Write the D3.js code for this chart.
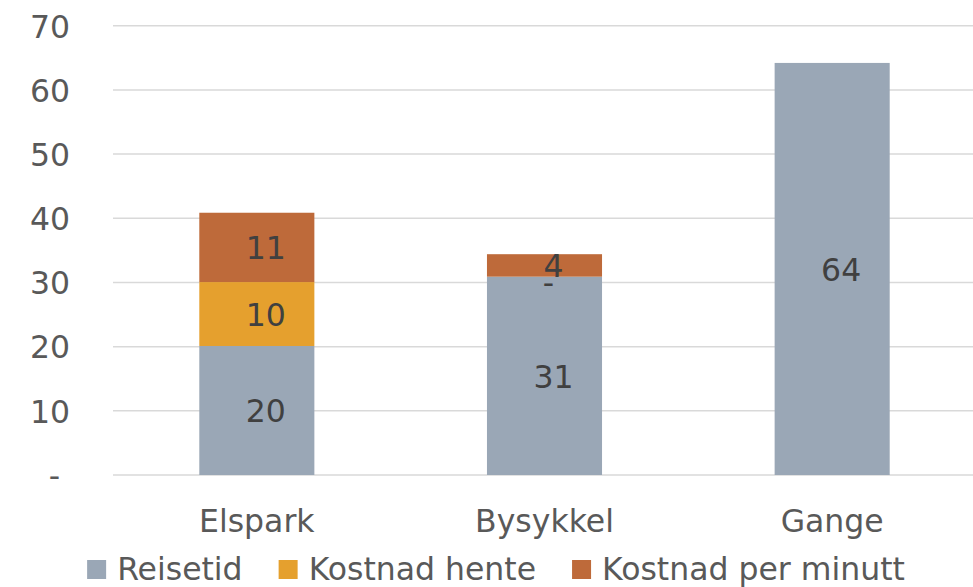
<!DOCTYPE html>
<html>
<head>
<meta charset="utf-8">
<script src="https://cdn.jsdelivr.net/npm/d3@7"></script>
<style>
    body { margin: 0; background: #fff; }
    text { font-family: "DejaVu Sans", sans-serif; }
</style>
</head>
<body>
<div class="canvas"></div>
<script>
//Data
const categories = ['Elspark', 'Bysykkel', 'Gange'];
const reisetid = [20.1, 30.9, 64.2];
const kostnadHente = [9.96, 0, 0];
const kostnadMinutt = [10.8, 3.5, 0];
const seriesNames = ['Reisetid', 'Kostnad hente', 'Kostnad per minutt'];
const yTicks = [0, 10, 20, 30, 40, 50, 60, 70];

const colors = ['#9aa7b6', '#e5a02e', '#be6a3a'];

//Svg parameters
const
    width = 973,
    height = 587,
    paddingL = 113,
    paddingR = -3,
    paddingT = 25.7,
    plotBottom = 475,
    fontSize = 31.5;

const svg = d3.select('.canvas')
    .append('svg')
    .attr('width', width)
    .attr('height', height);

const xScale = d3.scaleBand()
    .domain(categories)
    .range([paddingL, width - paddingR])
    .paddingInner(0.6)
    .paddingOuter(0.3);

const yScale = d3.scaleLinear()
    .domain([0, 70])
    .range([plotBottom, paddingT]);

// build stack table
const table = categories.map((c, i) => ({
    cat: c,
    'Reisetid': reisetid[i],
    'Kostnad hente': kostnadHente[i],
    'Kostnad per minutt': kostnadMinutt[i]
}));
const stacked = d3.stack().keys(seriesNames)(table);

//Gridlines
svg.append('g')
    .selectAll('line')
    .data(yTicks)
    .enter()
    .append('line')
    .attr('x1', paddingL)
    .attr('x2', width)
    .attr('y1', d => yScale(d))
    .attr('y2', d => yScale(d))
    .attr('stroke', '#d9d9d9')
    .attr('stroke-width', 1.5);

//Y axis
const yAxis = d3.axisLeft(yScale)
    .tickValues(yTicks)
    .tickSize(0)
    .tickPadding(0)
    .tickFormat(d => d === 0 ? '-' : d);
svg.append('g')
    .attr('transform', 'translate(70,0)')
    .call(yAxis)
    .call(g => g.select('.domain').remove())
    .call(g => g.selectAll('text')
        .attr('font-size', fontSize)
        .attr('fill', '#595959')
        .attr('font-family', '"DejaVu Sans", sans-serif')
        .attr('dx', d => d === 0 ? -10 : 0)
        .attr('dy', '0.36em'));

//Bars
const layers = svg.append('g')
    .selectAll('g')
    .data(stacked)
    .enter()
    .append('g')
    .attr('fill', (d, i) => colors[i]);

layers.selectAll('rect')
    .data(d => d)
    .enter()
    .append('rect')
    .attr('x', d => xScale(d.data.cat))
    .attr('width', xScale.bandwidth())
    .attr('y', d => yScale(d[1]))
    .attr('height', d => yScale(d[0]) - yScale(d[1]));

//Data labels (Excel shows "-" for the zero segment on Bysykkel)
stacked.forEach((layer, li) => {
    svg.append('g')
        .selectAll('text')
        .data(layer.filter(d => d.data[layer.key] > 0 || d.data.cat === 'Bysykkel'))
        .enter()
        .append('text')
        .attr('x', d => xScale(d.data.cat) + xScale.bandwidth() / 2 + (d.data[layer.key] === 0 ? 4 : 9))
        .attr('y', d => yScale((d[0] + d[1]) / 2))
        .attr('dy', d => d.data[layer.key] === 0 ? '0.55em' : '0.38em')
        .attr('text-anchor', 'middle')
        .attr('font-size', fontSize)
        .attr('fill', '#404040')
        .text(d => {
            const v = d.data[layer.key];
            return v === 0 ? '-' : d3.format('.0f')(v);
        });
});

//X axis
const xAxis = d3.axisBottom(xScale).tickSize(0).tickPadding(0);
svg.append('g')
    .attr('transform', 'translate(0,532)')
    .call(xAxis)
    .call(g => g.select('.domain').remove())
    .call(g => g.selectAll('text')
        .attr('font-size', fontSize)
        .attr('fill', '#595959')
        .attr('font-family', '"DejaVu Sans", sans-serif')
        .attr('dy', 0));

//Legend
const legend = svg.append('g').attr('transform', 'translate(0,580)');
const items = legend.selectAll('g')
    .data(seriesNames)
    .enter()
    .append('g');
items.append('rect')
    .attr('y', -20)
    .attr('width', 19)
    .attr('height', 19)
    .attr('fill', (d, i) => colors[i]);
items.append('text')
    .attr('x', 30)
    .attr('font-size', fontSize)
    .attr('fill', '#595959')
    .text(d => d);

let widths = [];
items.each(function () {
    widths.push(30 + this.querySelector('text').getComputedTextLength());
});
const gap = 36;
const total = d3.sum(widths) + gap * (widths.length - 1);
let cx = 496 - total / 2;
items.attr('transform', (d, i) => {
    const x = cx;
    cx += widths[i] + gap;
    return `translate(${x},0)`;
});
</script>
</body>
</html>
